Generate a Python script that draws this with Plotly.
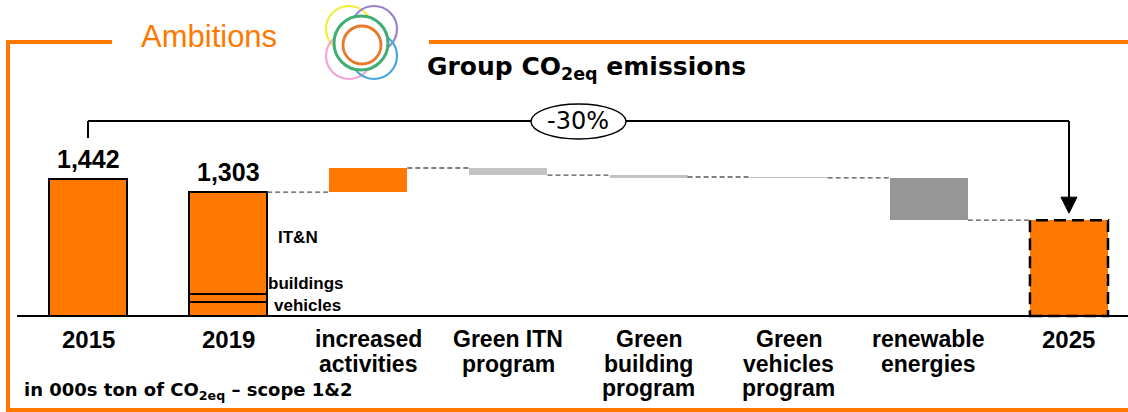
import numpy as np
import plotly.graph_objects as go

# ---------------- data ----------------
categories = ["2015", "2019", "increased<br>activities", "Green ITN<br>program",
              "Green<br>building<br>program", "Green<br>vehicles<br>program",
              "renewable<br>energies", "2025"]
value_2015 = 1442
value_2019 = 1303
split_2019_names = ["vehicles", "buildings", "IT&N"]
split_2019_values = [145, 85, 1073]
delta_names = ["increased activities", "Green ITN program", "Green building program",
               "Green vehicles program", "renewable energies"]
delta_values = [255, -75, -20, -10, -444]
value_2025 = 1009
delta_colors = ["#FF7900", "#C3C3C3", "#C3C3C3", "#C3C3C3", "#969696"]
reduction_label = "-30%"

# ---------------- geometry helpers ----------------
W, H = 1128, 412
ORANGE = "#FF7900"
FONT = "Liberation Sans, Arial, sans-serif"
WIDE = "DejaVu Sans, Liberation Sans, sans-serif"
UNITS_PER_PX = 10.526
BASE_PX = 316
X0_PX, X_STEP = 88, 140.14
BW = 0.557

def P(x, y):
    return x / W, 1 - y / H

fig = go.Figure()

# 2015 bar
fig.add_trace(go.Bar(x=[0], y=[value_2015], base=[0], width=BW,
                     marker=dict(color=ORANGE, line=dict(color="black", width=2)),
                     showlegend=False, hoverinfo="skip"))
# 2019 stacked segments
b = 0
for nm, v in zip(split_2019_names, split_2019_values):
    fig.add_trace(go.Bar(x=[1], y=[v], base=[b], width=BW, name=nm,
                         marker=dict(color=ORANGE, line=dict(color="black", width=2)),
                         showlegend=False, hoverinfo="skip"))
    b += v

# floating delta bars
level = value_2019
levels = [level]
for i, (d, c) in enumerate(zip(delta_values, delta_colors)):
    lo = min(level, level + d)
    fig.add_trace(go.Bar(x=[i + 2], y=[abs(d)], base=[lo], width=BW,
                         marker=dict(color=c, line=dict(width=0)),
                         showlegend=False, hoverinfo="skip"))
    level += d
    levels.append(level)

# 2025 bar
fig.add_trace(go.Bar(x=[7], y=[value_2025], base=[0], width=BW,
                     marker=dict(color=ORANGE, line=dict(width=0)),
                     showlegend=False, hoverinfo="skip"))

shapes = []
# dashed outline for 2025
shapes.append(dict(type="rect", xref="x", yref="y", x0=7 - BW / 2, x1=7 + BW / 2,
                   y0=0, y1=value_2025, line=dict(color="black", width=2.5, dash="12px,6px"),
                   layer="above"))

# connectors
for i, lv in enumerate(levels):
    xa = i + 1 + BW / 2
    xb = i + 2 - BW / 2
    shapes.append(dict(type="line", xref="x", yref="y", x0=xa, x1=xb, y0=lv, y1=lv,
                       line=dict(color="#555555", width=1.3, dash="5px,3px")))

# axis line
shapes.append(dict(type="line", xref="paper", yref="y", x0=17 / W, x1=1, y0=0, y1=0,
                   line=dict(color="black", width=2)))

def pline(x0, y0, x1, y1, color=ORANGE, width=4):
    a = P(x0, y0); bb = P(x1, y1)
    return dict(type="line", xref="paper", yref="paper", x0=a[0], y0=a[1], x1=bb[0], y1=bb[1],
                line=dict(color=color, width=width))

# orange frame
shapes.append(pline(8, 40, 8, 412))
shapes.append(pline(6, 42, 112, 42))
shapes.append(pline(429, 42, 1128, 42))
shapes.append(pline(6, 410, 1128, 410))

def ypx(v):
    return BASE_PX - v / UNITS_PER_PX
def xpx(i):
    return X0_PX + i * X_STEP

# bracket
yb = 121
shapes.append(pline(xpx(0), ypx(value_2015) - 41, xpx(0), yb, color="black", width=2))
shapes.append(pline(xpx(0), yb, xpx(7), yb, color="black", width=2))
shapes.append(pline(xpx(7), yb, xpx(7), ypx(value_2025) - 20, color="black", width=2))
tip = P(xpx(7), ypx(value_2025) - 7)
l = P(xpx(7) - 8, ypx(value_2025) - 23)
r = P(xpx(7) + 8, ypx(value_2025) - 23)
shapes.append(dict(type="path", xref="paper", yref="paper",
                   path=f"M {l[0]} {l[1]} L {r[0]} {r[1]} L {tip[0]} {tip[1]} Z",
                   fillcolor="black", line=dict(color="black", width=1)))
# ellipse
e0 = P(531, 104); e1 = P(626, 139)
shapes.append(dict(type="circle", xref="paper", yref="paper", x0=e0[0], y0=e0[1], x1=e1[0], y1=e1[1],
                   fillcolor="white", line=dict(color="black", width=1.5)))

# logo
def circ(cx, cy, r, color, width=2.5, fill=None):
    a = P(cx - r, cy - r); bb = P(cx + r, cy + r)
    d = dict(type="circle", xref="paper", yref="paper", x0=a[0], y0=a[1], x1=bb[0], y1=bb[1],
             line=dict(color=color, width=width))
    if fill:
        d["fillcolor"] = fill
    return d

shapes.append(circ(349, 29, 23, "#F4EE3A", width=2.2))
shapes.append(circ(374, 29, 23, "#9A80D0", width=2.2))
shapes.append(circ(349, 56, 23, "#F2A6D6", width=2.2))
shapes.append(circ(374, 56, 23, "#4AA6DE", width=2.2))
shapes.append(circ(361, 43, 27, "#3FAE74", width=3, fill="white"))
shapes.append(circ(362, 45, 19, "#E8782A", width=2.8))

annotations = []
def txt(t, x, y, size, color="black", bold=True, xanchor="center", yanchor="middle", font=FONT):
    px, py = P(x, y)
    annotations.append(dict(text=(f"<b>{t}</b>" if bold else t), x=px, y=py, xref="paper", yref="paper",
                            showarrow=False, xanchor=xanchor, yanchor=yanchor, align="center",
                            font=dict(family=font, size=size, color=color)))

# category labels (one annotation per line for tighter line spacing)
for i, c in enumerate(categories):
    lines = c.split("<br>")
    size = 24 if c.isdigit() else 23
    for k, ln in enumerate(lines):
        txt(ln, xpx(i), 339 + 24.5 * k, size)

# value labels
txt(f"{value_2015:,}", xpx(0), ypx(value_2015) - 20, 25)
txt(f"{value_2019:,}", xpx(1), ypx(value_2019) - 20, 25)

# split labels
txt("IT&N", 276, 237, 17, xanchor="left")
txt("buildings", 266, 283, 17, xanchor="left")
txt("vehicles", 272, 305, 17, xanchor="left")

txt(reduction_label, 578, 121, 24, bold=False, font=WIDE)
txt("Group CO<sub>2eq</sub> emissions", 425, 68, 25, xanchor="left", font=WIDE)
txt("Ambitions", 139, 37, 31, color=ORANGE, bold=False, xanchor="left")
txt("in 000s ton of CO<sub>2eq</sub> – scope 1&2", 22, 391, 18, xanchor="left", font=WIDE)

fig.update_layout(
    width=W, height=H, margin=dict(l=0, r=0, t=0, b=0),
    paper_bgcolor="white", plot_bgcolor="white",
    barmode="overlay", bargap=0,
    xaxis=dict(visible=False, range=[-X0_PX / X_STEP, (W - X0_PX) / X_STEP], fixedrange=True),
    yaxis=dict(visible=False, range=[-(H - BASE_PX) * UNITS_PER_PX, BASE_PX * UNITS_PER_PX], fixedrange=True),
    shapes=shapes, annotations=annotations, showlegend=False,
)

fig.write_html("out.html")
